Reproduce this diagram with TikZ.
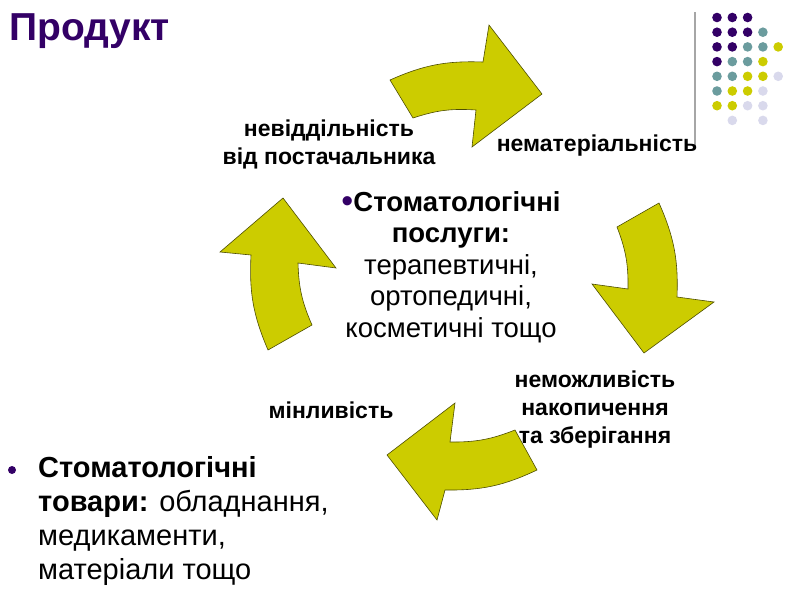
\documentclass[tikz,border=0pt]{standalone}
\usepackage{fontspec}
\setmainfont{Liberation Sans}
\definecolor{tpurple}{HTML}{330066}
\definecolor{dteal}{HTML}{6B9C9E}
\definecolor{dyellow}{HTML}{CCCC00}
\definecolor{dlav}{HTML}{D9D9EC}
\definecolor{arrowfill}{HTML}{CCCC00}
\definecolor{arrowline}{HTML}{4D4D00}
\definecolor{vline}{HTML}{A6A6A6}
\begin{document}
\begin{tikzpicture}[x=1pt,y=-1pt,
  cyc/.style={fill=arrowfill, draw=arrowline, line width=0.6pt, line join=miter},
  lbl/.style={font=\fontsize{23}{28}\selectfont\bfseries, align=center, inner sep=0pt},
  ctr/.style={font=\fontsize{27.5}{31.5}\selectfont, align=center, inner sep=0pt},
  goodsstyle/.style={font=\fontsize{29}{34}\selectfont, align=left, inner sep=0pt, anchor=north west},
  titlestyle/.style={font=\fontsize{39}{44}\selectfont\bfseries, text=tpurple, inner sep=0pt, anchor=base west}
]
\useasboundingbox (0,0) rectangle (800,600);

% title
\node[titlestyle] (title) at (9,40) {Продукт};

% decoration: vertical line and dots
\draw[vline, line width=1.5pt] (695,12) -- (695,148);
\foreach \c/\r/\col in {0/0/tpurple,1/0/tpurple,2/0/tpurple,
  0/1/tpurple,1/1/tpurple,2/1/tpurple,3/1/dteal,
  0/2/tpurple,1/2/tpurple,2/2/dteal,3/2/dteal,4/2/dyellow,
  0/3/tpurple,1/3/dteal,2/3/dteal,3/3/dyellow,
  0/4/dteal,1/4/dteal,2/4/dyellow,3/4/dyellow,4/4/dlav,
  0/5/dteal,1/5/dyellow,2/5/dyellow,3/5/dlav,
  0/6/dyellow,1/6/dyellow,2/6/dlav,3/6/dlav,
  1/7/dlav,3/7/dlav}
  \fill[\col] ({717+15.3*\c},{17.5+14.7*\r}) circle (4.8pt);

% cycle arrows
\draw[cyc] (390,80) to[bend left=13] (483,62) -- (489,25) -- (542,94) -- (472,147) -- (476,110) to[bend right=11] (413,118) -- cycle;
\draw[cyc] (659,203) to[bend left=13] (677,297) -- (714,302) -- (644,353) -- (592,284) -- (628,289) to[bend right=11] (617,227) -- cycle;
\draw[cyc] (515,430) to[bend left=11] (450,442) -- (455,403) -- (387,455) -- (437,520) -- (445,490) to[bend right=13] (537,470) -- cycle;
\draw[cyc] (312,325) to[bend left=11] (298,263) -- (336,268) -- (283,198) -- (220,252) -- (251,255) to[bend right=13] (268,350) -- cycle;

% labels
\node[lbl] (l1) at (329,144) {невіддільність\\від постачальника};
\node[lbl] (l2) at (597,146) {нематеріальність};
\node[lbl] (l3) at (595,410) {неможливість\\накопичення\\та зберігання};
\node[lbl] (l4) at (331,410) {мінливість};

% centre text
\node[ctr] (svc) at (451,267) {\textcolor{tpurple}{\fontsize{34}{34}\selectfont\raisebox{-1.5pt}{•}}\textbf{Стоматологічні}\\\textbf{послуги:}\\терапевтичні,\\ортопедичні,\\косметичні тощо};

% goods
\fill[tpurple] (12,470) circle (4pt);
\node[goodsstyle] (goods) at (38,456) {\textbf{Стоматологічні}\\\textbf{товари:} обладнання,\\медикаменти,\\матеріали тощо};
\end{tikzpicture}
\end{document}
